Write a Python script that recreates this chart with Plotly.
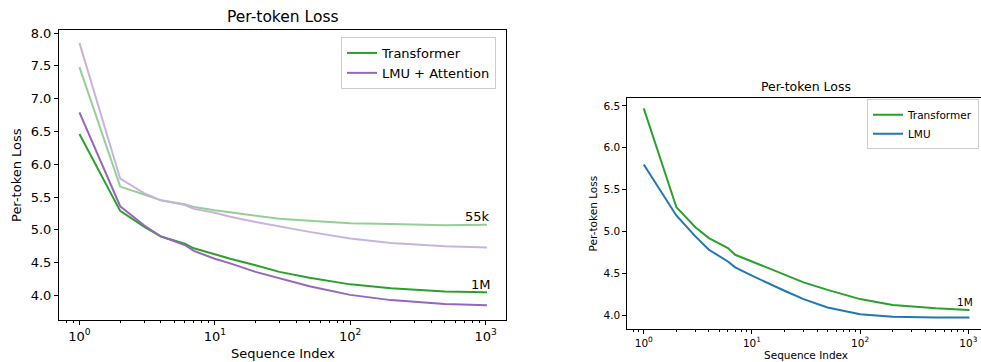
import plotly.graph_objects as go

# Sequence indices at which values were read
seq_idx = [1, 2, 3, 4, 6, 7, 10, 13, 20, 30, 50, 100, 200, 500, 1000, 1024]

# Left panel
transformer_1m = [6.46, 5.29, 5.05, 4.90, 4.79, 4.72, 4.63, 4.56, 4.46, 4.36, 4.27, 4.17, 4.11, 4.06, 4.05, 4.05]
lmu_attn_1m = [6.79, 5.36, 5.07, 4.90, 4.77, 4.68, 4.56, 4.49, 4.36, 4.26, 4.14, 4.01, 3.93, 3.87, 3.85, 3.85]
transformer_55k = [7.48, 5.66, 5.54, 5.45, 5.39, 5.35, 5.30, 5.27, 5.22, 5.17, 5.14, 5.10, 5.09, 5.07, 5.08, 5.08]
lmu_attn_55k = [7.85, 5.78, 5.56, 5.45, 5.38, 5.32, 5.26, 5.20, 5.12, 5.05, 4.97, 4.87, 4.80, 4.75, 4.73, 4.73]

# Right panel
transformer_r = [6.47, 5.29, 5.05, 4.92, 4.80, 4.72, 4.64, 4.58, 4.48, 4.39, 4.30, 4.19, 4.12, 4.08, 4.06, 4.06]
lmu_r = [5.80, 5.19, 4.94, 4.78, 4.64, 4.57, 4.47, 4.40, 4.29, 4.19, 4.09, 4.01, 3.98, 3.97, 3.97, 3.97]

xtick_vals = [1, 10, 100, 1000]
xtick_text = ["10<sup>0</sup>", "10<sup>1</sup>", "10<sup>2</sup>", "10<sup>3</sup>"]
left_yticks = [4.0, 4.5, 5.0, 5.5, 6.0, 6.5, 7.0, 7.5, 8.0]
right_yticks = [4.0, 4.5, 5.0, 5.5, 6.0, 6.5]

GREEN = "#2ca02c"
PURPLE = "#9467bd"
LGREEN = "#95cf95"
LPURPLE = "#c9b3de"
BLUE = "#1f77b4"
FONT = "DejaVu Sans"

W, H = 981, 362

def px(sx):
    return sx / W

def py(sy):
    return 1 - sy / H

fig = go.Figure()

def add(x, y, color, name, xa, ya, legend, show):
    fig.add_trace(go.Scatter(x=x, y=y, mode="lines", line=dict(color=color, width=2),
                             name=name, xaxis=xa, yaxis=ya, legend=legend,
                             showlegend=show))

add(seq_idx, transformer_55k, LGREEN, "Transformer 55k", "x", "y", "legend", False)
add(seq_idx, lmu_attn_55k, LPURPLE, "LMU + Attention 55k", "x", "y", "legend", False)
add(seq_idx, transformer_1m, GREEN, "Transformer", "x", "y", "legend", True)
add(seq_idx, lmu_attn_1m, PURPLE, "LMU + Attention", "x", "y", "legend", True)
add(seq_idx, transformer_r, GREEN, "Transformer", "x2", "y2", "legend2", True)
add(seq_idx, lmu_r, BLUE, "LMU", "x2", "y2", "legend2", True)

def xaxis(domain, rng, fs, anchor):
    return dict(domain=domain, type="log", range=rng, anchor=anchor, automargin=False,
                tickvals=xtick_vals, ticktext=xtick_text, ticks="outside",
                ticklen=4, tickcolor="black", showline=True, linecolor="black",
                linewidth=1, showgrid=False, zeroline=False, mirror=True,
                ticklabeloverflow="allow",
                tickfont=dict(family=FONT, size=fs, color="black"),
                minor=dict(ticks="outside", ticklen=2, tickcolor="black", dtick="D1", showgrid=False))

def yaxis(domain, rng, vals, fs, anchor, mirror):
    return dict(domain=domain, range=rng, anchor=anchor, tickvals=vals, automargin=False,
                ticktext=[f"{v:.1f}" for v in vals], ticks="outside", ticklen=4,
                tickcolor="black", showline=True, linecolor="black", linewidth=1,
                mirror=mirror, showgrid=False, zeroline=False,
                tickfont=dict(family=FONT, size=fs, color="black"))

lx = [px(59), px(506)]
ly = [py(320), py(30)]
rx = [px(627.3), 1.0]
ry = [py(329.3), py(97.5)]

fig.update_layout(
    width=W, height=H, autosize=False,
    margin=dict(l=0, r=0, t=0, b=0, autoexpand=False),
    paper_bgcolor="white", plot_bgcolor="white",
    font=dict(family=FONT, color="black"),
    xaxis=xaxis(lx, [-0.151, 3.151], 13, "y"),
    yaxis=yaxis(ly, [3.627, 8.046], left_yticks, 13, "x", True),
    xaxis2=xaxis(rx, [-0.152, 3.117], 10.5, "y2"),
    yaxis2=yaxis(ry, [3.829, 6.6], right_yticks, 10.5, "x2", False),
    legend=dict(x=px(341), y=py(37), xanchor="left", yanchor="top",
                bgcolor="rgba(255,255,255,0.8)", bordercolor="#cccccc", borderwidth=1,
                font=dict(family=FONT, size=13, color="black"), tracegroupgap=0,
                itemwidth=30),
    legend2=dict(x=px(979), y=py(99.3), xanchor="right", yanchor="top",
                 bgcolor="rgba(255,255,255,0.8)", bordercolor="#cccccc", borderwidth=1,
                 font=dict(family=FONT, size=10.5, color="black"), tracegroupgap=0,
                 itemwidth=30),
)

ann = [
    dict(text="Per-token Loss", x=px(282.5), y=py(17), font=dict(size=15.5)),
    dict(text="Sequence Index", x=px(282.5), y=py(353), font=dict(size=13)),
    dict(text="Per-token Loss", x=px(17), y=py(175), font=dict(size=13), textangle=-90),
    dict(text="Per-token Loss", x=px(806), y=py(86.7), font=dict(size=12.5)),
    dict(text="Sequence Index", x=px(806), y=py(355), font=dict(size=10.5)),
    dict(text="Per-token Loss", x=px(593), y=py(213.4), font=dict(size=10.5), textangle=-90),
]
for a in ann:
    fig.add_annotation(xref="paper", yref="paper", showarrow=False,
                       xanchor="center", yanchor="middle", **a)

fig.add_annotation(xref="x", yref="y", x=2.938, y=5.21, text="55k", showarrow=False,
                   font=dict(size=13), xanchor="center", yanchor="middle")
fig.add_annotation(xref="x", yref="y", x=2.967, y=4.175, text="1M", showarrow=False,
                   font=dict(size=13), xanchor="center", yanchor="middle")
fig.add_annotation(xref="x2", yref="y2", x=2.97, y=4.155, text="1M", showarrow=False,
                   font=dict(size=10.5), xanchor="center", yanchor="middle")

fig.write_html("out.html", config={"displayModeBar": False},
               post_script="document.body.style.margin='0';document.body.style.overflow='hidden';")
